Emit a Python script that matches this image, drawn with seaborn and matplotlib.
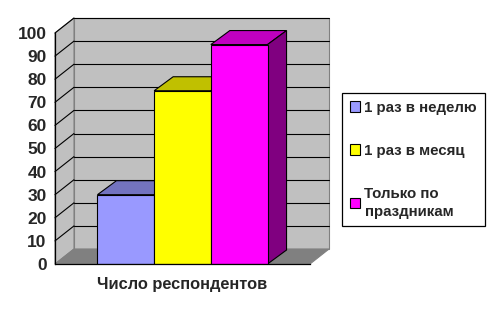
import matplotlib
matplotlib.use("Agg")
import matplotlib.pyplot as plt
import seaborn as sns
import pandas as pd
from matplotlib.patches import Polygon, Patch

categories = ["Число респондентов"]
series = ["1 раз в неделю", "1 раз в месяц", "Только по\nпраздникам"]
values = [30, 75, 95]
front_colors = ["#9999FF", "#FFFF00", "#FF00FF"]
top_colors = ["#7373BF", "#C0C000", "#C000C0"]
side_colors = ["#6666AA", "#999900", "#800080"]
yticks = list(range(0, 101, 10))

df = pd.DataFrame({"cat": categories * len(series), "series": series, "val": values})

sns.set_theme(style="white")
plt.rcParams["font.family"] = ["Liberation Sans", "DejaVu Sans"]
plt.rcParams["font.weight"] = "bold"

W, H = 496, 315
fig = plt.figure(figsize=(W / 100, H / 100), dpi=100)
fig.patch.set_facecolor("white")
L, R, B, T = 55, 310, 264, 33
ax = fig.add_axes([L / W, 1 - B / H, (R - L) / W, (B - T) / H])
ax.set_facecolor("none")

sns.barplot(data=df, x="cat", y="val", hue="series", palette=front_colors,
            width=0.667, saturation=1, edgecolor="black", linewidth=0.8,
            legend=False, ax=ax, zorder=3)
ax.set_xlim(-0.5, 0.5)
ax.set_ylim(0, 100)

# depth offsets in data units
pxx = 1.0 / (R - L)
pxy = 100.0 / (B - T)
wdx, wdy = 19 * pxx, 15 * pxy
bdx, bdy = 19 * pxx, 14 * pxy
x0, x1 = -0.5, 0.5

def poly(pts, fc, ec, lw, z):
    p = Polygon(pts, closed=True, facecolor=fc, edgecolor=ec, linewidth=lw,
                zorder=z, clip_on=False)
    ax.add_patch(p)

# back wall
poly([(x0 + wdx, wdy), (x1 + wdx, wdy), (x1 + wdx, 100 + wdy), (x0 + wdx, 100 + wdy)],
     "#C0C0C0", "#808080", 0.8, 0.5)
# left wall
poly([(x0, 0), (x0 + wdx, wdy), (x0 + wdx, 100 + wdy), (x0, 100)],
     "#C0C0C0", "#808080", 0.8, 0.5)
# floor
poly([(x0, 0), (x1, 0), (x1 + wdx, wdy), (x0 + wdx, wdy)],
     "#808080", "#808080", 0.8, 0.6)
# gridlines
for v in yticks[1:]:
    ax.plot([x0 + wdx, x1 + wdx], [v + wdy, v + wdy], color="black", lw=0.8,
            zorder=0.8, clip_on=False)
    ax.plot([x0, x0 + wdx], [v, v + wdy], color="black", lw=0.8,
            zorder=0.8, clip_on=False)

# 3D faces of bars
bars = sorted([p for p in ax.patches if p.get_zorder() == 3 and p.get_height() > 0],
              key=lambda p: p.get_x())
for i, p in enumerate(bars):
    bx, bw, bh = p.get_x(), p.get_width(), p.get_height()
    poly([(bx, bh), (bx + bw, bh), (bx + bw + bdx, bh + bdy), (bx + bdx, bh + bdy)],
         top_colors[i], "black", 0.8, 2.5)
    poly([(bx + bw, 0), (bx + bw + bdx, bdy), (bx + bw + bdx, bh + bdy), (bx + bw, bh)],
         side_colors[i], "black", 0.8, 2.5)

# axes styling
for s in ["top", "right"]:
    ax.spines[s].set_visible(False)
for s in ["left", "bottom"]:
    ax.spines[s].set_color("black")
    ax.spines[s].set_linewidth(0.9)
    ax.spines[s].set_zorder(4)
ax.set_yticks(yticks)
ax.set_yticklabels([str(v) for v in yticks], fontsize=12.5, fontweight="bold")
ax.tick_params(axis="y", direction="out", length=4, width=0.9, color="black", pad=2)
ax.set_xticks([0])
ax.set_xticklabels(categories, fontsize=11.8, fontweight="bold")
ax.set_xticks([x0, x1], minor=True)
ax.tick_params(axis="x", which="major", length=0, pad=9)
ax.tick_params(axis="x", which="minor", direction="out", length=4, width=0.9, color="black")
ax.set_xlabel("")
ax.set_ylabel("")

handles = [Patch(facecolor=c, edgecolor="black", linewidth=0.8) for c in front_colors]
leg = ax.legend(handles, series, loc="upper left",
                bbox_to_anchor=(342 / W, 1 - 93 / H), bbox_transform=fig.transFigure,
                frameon=True, fancybox=False, edgecolor="black", framealpha=1,
                prop={"weight": "bold", "size": 10.8}, handlelength=0.7, handleheight=0.7,
                handletextpad=0.3, labelspacing=1.95, borderpad=0.5, borderaxespad=0)
for t in leg.get_texts():
    t.set_linespacing(1.35)
leg.get_frame().set_linewidth(0.9)

fig.savefig("out.png", dpi=100, facecolor="white")
